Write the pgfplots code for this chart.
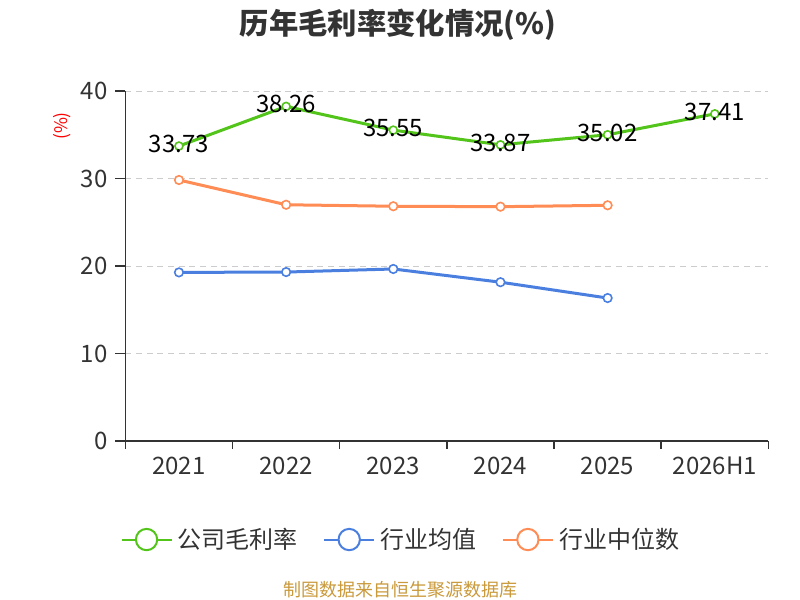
\documentclass[border=0pt]{standalone}
\usepackage{fontspec}
\setmainfont{Noto Sans CJK SC}
\usepackage{pgfplots}
\pgfplotsset{compat=1.18}
\definecolor{gcol}{HTML}{52C41A}
\definecolor{bcol}{HTML}{4A7FE0}
\definecolor{ocol}{HTML}{FF8C55}
\definecolor{axcol}{HTML}{333333}
\definecolor{gridcol}{HTML}{CCCCCC}
\definecolor{srccol}{HTML}{C9993A}
\begin{document}
\begin{tikzpicture}[x=0.75pt,y=0.75pt]
\path[use as bounding box] (0,0) rectangle (800,600);
\begin{axis}[
  at={(117,181.5)}, anchor=south west,
  scale only axis, width=482.25pt, height=262.5pt,
  xmin=-0.5, xmax=5.5, ymin=0, ymax=40,
  axis x line=bottom, axis y line=left,
  axis line style={-, line width=1.1pt, color=axcol},
  xtick={0,...,5},
  xticklabels={2021,2022,2023,2024,2025,2026H1},
  minor xtick={-0.5,0.5,...,5.5},
  ytick={0,10,20,30,40},
  major x tick style={draw=none},
  minor x tick style={line width=1.1pt, color=axcol},
  y tick style={line width=1.1pt, color=axcol},
  tick align=outside,
  major tick length=7.5pt, minor tick length=6pt,
  ymajorgrids, grid style={dashed, dash pattern=on 4.5pt off 3.5pt, line width=0.75pt, color=gridcol},
  tick label style={font=\fontsize{18}{20}\selectfont, color=axcol},
  /pgf/number format/assume math mode=true,
  xticklabel style={yshift=-1pt},
  yticklabel style={xshift=-2.5pt},
  clip=false,
  every node near coord/.append style={font=\fontsize{18}{20}\selectfont, color=black, anchor=center, yshift=1.5pt},
  legend columns=3,
  legend style={at={(0.429,-0.281)}, anchor=center, draw=none, fill=none,
    font=\fontsize{18}{20}\selectfont, text=axcol,
    /tikz/every odd column/.append style={column sep=2pt},
    /tikz/every even column/.append style={column sep=17pt}},
  legend image code/.code={
    \draw[#1, mark=none, line width=1.5pt] (0pt,0pt) -- (37.5pt,0pt);
    \draw[#1, mark=none, line width=1.5pt, fill=white] (18.75pt,0pt) circle (8pt);
  },
]
\addplot[color=gcol, line width=2.25pt, mark=*, mark size=3pt,
  mark options={fill=white, line width=1.2pt},
  nodes near coords, point meta=explicit symbolic]
  coordinates {(0,33.73)[33.73] (1,38.26)[38.26] (2,35.55)[35.55] (3,33.87)[33.87] (4,35.02)[35.02] (5,37.41)[37.41]};
\addlegendentry{公司毛利率}
\addplot[color=bcol, line width=2.25pt, mark=*, mark size=3.2pt,
  mark options={fill=white, line width=1.2pt}]
  coordinates {(0,19.29) (1,19.33) (2,19.68) (3,18.17) (4,16.36)};
\addlegendentry{行业均值}
\addplot[color=ocol, line width=2.25pt, mark=*, mark size=3.2pt,
  mark options={fill=white, line width=1.2pt}]
  coordinates {(0,29.85) (1,27.02) (2,26.85) (3,26.80) (4,26.96)};
\addlegendentry{行业中位数}
\end{axis}
\node[font=\fontsize{22}{24}\selectfont\bfseries, color=axcol] at (398,575) {历年毛利率变化情况(\%)};
\node[font=\fontsize{13}{15}\selectfont, color=red, rotate=90] at (62,474) {(\%)};
\node[font=\fontsize{13.5}{15}\selectfont, color=srccol] at (400,10) {制图数据来自恒生聚源数据库};
\end{tikzpicture}
\end{document}
